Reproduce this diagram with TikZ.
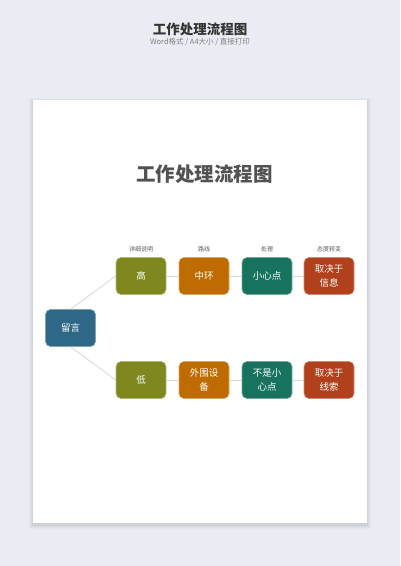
\documentclass[tikz,border=0pt]{standalone}
\usepackage{fontspec}
\setmainfont{Noto Sans CJK SC}
\usetikzlibrary{positioning,shapes}

\definecolor{pagebg}{HTML}{E9ECF2}
\definecolor{cblue}{HTML}{2F6786}
\definecolor{colive}{HTML}{7E881F}
\definecolor{corange}{HTML}{BE6B02}
\definecolor{cteal}{HTML}{17735E}
\definecolor{cred}{HTML}{B1401D}
\definecolor{linkgray}{HTML}{D4D4D4}

\begin{document}
\begin{tikzpicture}[x=1pt,y=-1pt]
          %% fond et feuille
          \useasboundingbox (0,0) rectangle (400,566);
          \fill[pagebg] (0,0) rectangle (400,566);
          \foreach \d/\o in {4/0.02,3/0.025,2/0.03,1/0.035} {
            \fill[black,opacity=\o] (32.5-\d,100-\d+2) rectangle (367+\d,523+\d+2);
          }
          \fill[white] (32.5,100) rectangle (367,523);

          \tikzstyle{every node}=[inner sep=0pt]
          \tikzstyle{box}=[rectangle,rounded corners=5pt,minimum width=50pt,
            minimum height=37pt,text=white,align=center,line width=0.6pt,
            font=\fontsize{9.5}{14}\selectfont]
          \tikzstyle{head}=[text=black!65,font=\fontsize{6}{6}\selectfont]
          \tikzstyle{link}=[-,draw=linkgray,line width=0.7pt]

          % titres
          \node[text=black!80,font=\fontsize{13.5}{14}\selectfont\bfseries] (T0) at (200,29) {工作处理流程图};
          \node[text=black!50,font=\fontsize{7.5}{8}\selectfont] (S0) at (200,42) {Word格式 / A4大小 / 直接打印};
          \node[text=black!68,font=\fontsize{19.5}{20}\selectfont\bfseries] (T1) at (204.5,174) {工作处理流程图};

          % racine
          \node[box,fill=cblue,draw=cblue!60!white] (M0) at (70.5,328) {留言};

          % premiere ligne
          \foreach \i/\x/\c/\h/\t in {1/141/colive/详细说明/高, 2/204/corange/路线/中环,
              3/267/cteal/处理/小心点, 4/329/cred/态度转变/{取决于\\信息}} {
            \node[head] (C\i) at (\x,249) {\h};
            \node[box,fill=\c,draw=\c!60!white] (H\i) at (\x,276) {\t};
          }

          % deuxieme ligne
          \foreach \i/\x/\c/\t in {1/141/colive/低, 2/204/corange/{外围设\\备},
              3/267/cteal/{不是小\\心点}, 4/329/cred/{取决于\\线索}} {
            \node[box,fill=\c,draw=\c!60!white] (L\i) at (\x,380) {\t};
          }

          \path[link] (M0.north) edge (H1.west)
          (M0.south) edge (L1.west);
          \foreach \from/\to in {1/2,2/3,3/4}{
            \path[link] (H\from) edge (H\to)
            (L\from) edge (L\to);
          }
\end{tikzpicture}
\end{document}
